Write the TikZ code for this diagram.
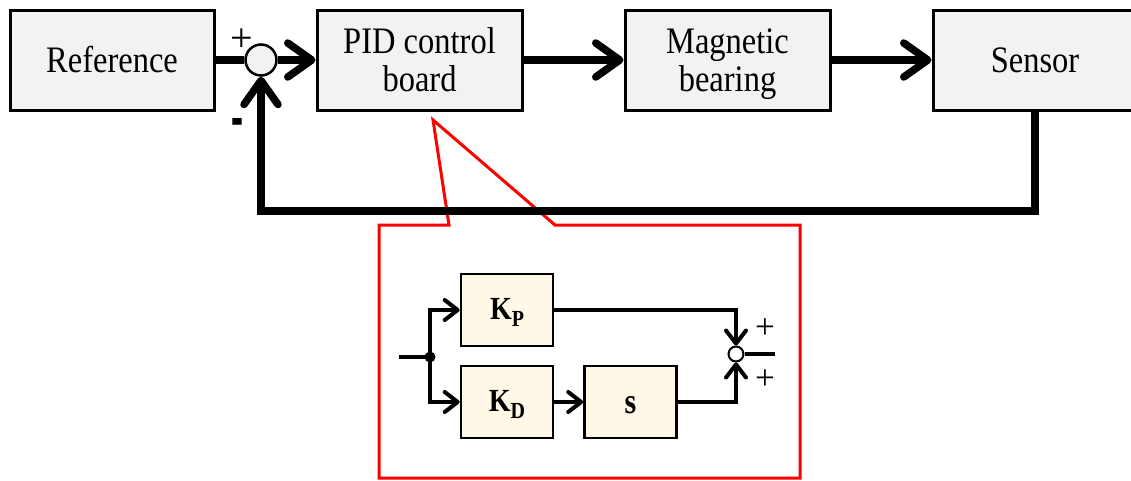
\documentclass[tikz,border=0pt]{standalone}
\usepackage{fontspec}
\setmainfont{Liberation Serif}
\usetikzlibrary{arrows.meta}
\definecolor{boxgray}{RGB}{242,242,242}
\definecolor{boxcream}{RGB}{255,248,230}
\newcommand{\subtxt}[1]{\raisebox{-6pt}{\fontsize{20}{20}\selectfont #1}}
\newcommand{\lowered}[2]{\raisebox{-#1}[\height][\depth]{#2}}
\newcommand{\tallt}[1]{\lowered{5pt}{\scalebox{1}[1.15]{\begin{tabular}{@{}c@{}}#1\end{tabular}}}}
\begin{document}
\begin{tikzpicture}[x=1pt,y=-1pt,
  outerbox/.style={draw=black, line width=3pt, fill=boxgray, minimum width=204pt, minimum height=100pt, inner sep=0pt, align=center, font=\fontsize{32.5}{33.5}\selectfont},
  innerbox/.style={draw=black, line width=2.6pt, fill=boxcream, minimum width=92pt, minimum height=72pt, inner sep=0pt, font=\fontsize{28}{30}\selectfont\bfseries},
  bigline/.style={line width=7.5pt, line cap=butt},
  bigarrow/.style={bigline, -{Straight Barb[length=24pt,width=34pt,line cap=round,line join=round]}},
  smallline/.style={line width=4pt},
  smallarrow/.style={smallline, -{Straight Barb[length=13pt,width=20pt,line cap=round,line join=round]}},
  signlbl/.style={inner sep=0pt, font=\fontsize{40}{40}\selectfont},
  isignlbl/.style={inner sep=0pt, font=\fontsize{35}{35}\selectfont},
]
\useasboundingbox (0,0) rectangle (1131,480);
% callout
\draw[red, line width=3pt, line join=miter] (379,225) -- (449,225) -- (433,120) -- (555,225) -- (800,225) -- (800,478) -- (379,478) -- cycle;
% outer boxes
\node[outerbox] (ref) at (112,60) {\tallt{Reference}};
\node[outerbox, minimum width=205pt] (pid) at (419.5,60) {\tallt{PID control\\board}};
\node[outerbox, minimum width=205pt] (mag) at (727.5,60) {\tallt{Magnetic\\bearing}};
\node[outerbox] (sen) at (1035,60) {\tallt{Sensor}};
\node[circle, draw=black, line width=2.5pt, fill=boxgray, minimum size=31pt, inner sep=0pt] (sum) at (261,60) {};
\node[signlbl] (plus1) at (242,40) {+};
\node[inner sep=0pt, font=\fontsize{36}{36}\selectfont\bfseries] (minus1) at (237,129) {\scalebox{1}[2.2]{-}};
\coordinate (fbr) at (1035,211);
\coordinate (fbl) at (261,211);
\draw[bigline] (ref.east) -- (sum.west);
\draw[bigarrow] (sum.east) -- (pid.west);
\draw[bigarrow] (pid.east) -- (mag.west);
\draw[bigarrow] (mag.east) -- (sen.west);
\draw[bigline, line join=miter] (sen.south) -- (fbr) -- (fbl);
\draw[bigarrow, line join=miter] (fbr) -- (fbl) -- (sum.south);
% inner diagram
\node[innerbox] (kp) at (507,310) {\lowered{2.5pt}{\scalebox{1}[1.15]{K\subtxt{P}}}};
\node[innerbox] (kd) at (507,402) {\lowered{2.5pt}{\scalebox{1}[1.15]{K\subtxt{D}}}};
\node[innerbox, font=\fontsize{30}{31}\selectfont\bfseries] (s) at (630.5,402) {\lowered{3pt}{\scalebox{1}[1.2]{s}}};
\node[circle, draw=black, line width=2pt, fill=white, minimum size=15pt, inner sep=0pt] (isum) at (736,354) {};
\coordinate (in) at (399,357);
\coordinate (jn) at (430,357);
\coordinate (out) at (775,354);
\draw[smallline] (in) -- (jn);
\fill (jn) circle (5.5pt);
\draw[smallarrow, line join=miter] (jn) |- (kp.west);
\draw[smallarrow, line join=miter] (jn) |- (kd.west);
\draw[smallarrow] (kd.east) -- (s.west);
\draw[smallarrow, line join=miter] (kp.east) -| (isum.north);
\draw[smallarrow, line join=miter] (s.east) -| (isum.south);
\draw[smallline] (isum.east) -- (out);
\node[isignlbl] (plus2) at (765,329) {+};
\node[isignlbl] (plus3) at (765,380) {+};
\end{tikzpicture}
\end{document}
